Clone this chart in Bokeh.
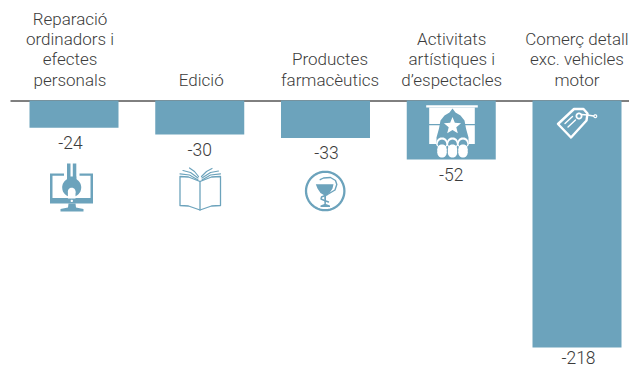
import math
from bokeh.embed import file_html
from bokeh.resources import INLINE
from bokeh.plotting import figure
from bokeh.models import ColumnDataSource, Range1d
from bokeh.core.properties import value

categories = [
    ["Reparació", "ordinadors i", "efectes", "personals"],
    ["Edició"],
    ["Productes", "farmacèutics"],
    ["Activitats", "artístiques i", "d’espectacles"],
    ["Comerç detall", "exc. vehicles", "motor"],
]
values = [-24, -30, -33, -52, -218]

BLUE = "#6ca3bc"
TXT = "#3c3c3c"
FONT = value("Roboto Light")
WHITE = "#ffffff"

W, H = 629, 368
STEP, ZERO_X = 125.75, 73.5
PXU, ZERO_Y = 1.133, 100.0
x0 = -ZERO_X / STEP
y1 = ZERO_Y / PXU

p = figure(width=W, height=H, output_backend="svg", toolbar_location=None,
           x_range=Range1d(x0, x0 + W / STEP), y_range=Range1d(y1 - H / PXU, y1),
           min_border=0, outline_line_color=None)
p.axis.visible = False
p.grid.visible = False
p.background_fill_color = None
p.border_fill_color = None

idx = list(range(len(values)))

# pictogram helpers: outlines given in screen px, converted through the scales
def X(a): return (a - ZERO_X) / STEP
def Y(b): return (ZERO_Y - b) / PXU
def poly(pts, fill=BLUE):
    p.patch([X(a) for a, b in pts], [Y(b) for a, b in pts], fill_color=fill, line_color=None)
def line(pts, color=BLUE, w=1.5):
    p.line([X(a) for a, b in pts], [Y(b) for a, b in pts], line_color=color, line_width=w,
           line_join="round", line_cap="round")
def ring(cx, cy, r):
    n = 48
    return [(cx + r * math.cos(2 * math.pi * k / n), cy + r * math.sin(2 * math.pi * k / n)) for k in range(n + 1)]
def disc(cx, cy, r, fill=BLUE): poly(ring(cx, cy, r), fill)
def circle(cx, cy, r, color=BLUE, w=1.5): line(ring(cx, cy, r), color, w)
def box(a, b, c, d, fill=BLUE): poly([(a, b), (c, b), (c, d), (a, d)], fill)

# baseline
p.line([X(10), X(629)], [Y(100.5), Y(100.5)], line_color="#000000", line_width=1)

# bars
src = ColumnDataSource(dict(x=idx, top=[0] * len(values), bottom=values,
                            lab=[str(v) for v in values],
                            dx=[-3.5, 0, 1, 0, 1.5], dy=[15, 15, 15, 15, 10]))
p.vbar(x="x", top="top", bottom="bottom", width=89 / STEP, source=src,
       fill_color=BLUE, line_color=None)

# value labels
p.text(x="x", y="bottom", text="lab", source=src, x_offset="dx", y_offset="dy",
       text_align="center", text_baseline="middle", text_font=FONT,
       text_font_size="17.5px", text_color=TXT)

# category labels
label_dx = [-4, 1.5, 4.5, 0.5, 0]
for i, lines in enumerate(categories):
    n = len(lines)
    for j, t in enumerate(lines):
        p.text(x=[i], y=[0], text=[t], x_offset=label_dx[i],
               y_offset=-21 - (n - 1 - j) * 20.3,
               text_align="center", text_baseline="middle", text_font=FONT,
               text_font_size="17px", text_color=TXT)

# --- monitor and wrench
box(49.5, 173, 92.5, 203)
box(52, 175.3, 90, 197.5, WHITE)
box(63.5, 171, 79, 176, WHITE)
disc(71.3, 200.4, 1.2, WHITE)
poly([(68, 203), (75, 203), (75.5, 207), (83, 208.5), (83, 211), (60, 211), (60, 208.5), (67.5, 207)])
box(66.5, 163, 70, 180)
box(72.3, 163, 75.8, 180)
box(66.5, 176, 75.8, 180)
disc(71.2, 187, 9.5)
disc(71.2, 191, 3.8, WHITE)
box(67.4, 191, 75, 198, WHITE)

# --- open book
line([(179.5, 176), (188, 176.5), (199.5, 181), (211, 176.5), (220, 176), (220, 205),
      (211, 205.5), (199.5, 209.5), (188, 205.5), (179.5, 205), (179.5, 176)], BLUE, 1.3)
line([(199.5, 181), (199.5, 209.5)], BLUE, 1.3)
line([(189, 167.5), (194, 171), (198, 176)], BLUE, 1.2)
line([(182.5, 170), (190, 172), (197.5, 177.5)], BLUE, 1.2)
line([(179.5, 173.3), (189, 174.5), (197.5, 179.5)], BLUE, 1.2)
line([(211.5, 168), (206, 171), (201, 176)], BLUE, 1.2)
line([(218, 170.5), (210, 172), (201.5, 177.5)], BLUE, 1.2)
line([(220, 173.3), (210, 174.5), (201.5, 179.5)], BLUE, 1.2)

# --- bowl of hygieia
circle(324.7, 190.5, 19.2, BLUE, 2.3)
poly([(315.3, 183.7), (333, 183.7), (332, 188), (329, 192.5), (325.6, 194.8), (325.4, 203.5),
      (329.5, 205), (329.5, 206.5), (320, 206.5), (320, 205), (323.9, 203.5), (323.7, 194.8),
      (320, 192.5), (317, 188)])
line([(319.7, 179.2), (323, 177.5), (330, 177), (335, 180), (336.3, 184), (334.5, 189.5),
      (327, 194), (321, 196.5), (320.5, 198.5), (324, 200), (328, 201.5)], BLUE, 1.4)

# --- stage and seats
box(425.7, 104.7, 477.3, 107, WHITE)
box(428.7, 107, 474.3, 123.5, WHITE)
box(428.7, 124.7, 474.3, 143.5, WHITE)
poly([(452, 108), (455, 112), (460, 115), (464, 120), (465.5, 128), (468, 137), (468, 146),
      (436, 146), (436, 137), (438.5, 128), (440, 120), (444, 115), (449, 112)])
star = []
for k in range(10):
    r = 9 if k % 2 == 0 else 4
    a = -math.pi / 2 + k * math.pi / 5
    star.append((452 + r * math.cos(a), 125.5 + r * math.sin(a)))
poly(star, WHITE)
for cx in (441.5, 452, 462.5):
    disc(cx, 142.5, 5.6, WHITE)
    box(cx - 5.6, 142.5, cx + 5.6, 145, WHITE)
    disc(cx, 143.3, 4.2, BLUE)
    box(cx - 4.2, 143.3, cx + 4.2, 144.5, BLUE)
    disc(cx, 148.5, 4.6, WHITE)
    box(cx - 4.6, 148.5, cx + 4.6, 152.5, WHITE)
    disc(cx, 152.5, 4.6, WHITE)

# --- price tag
line([(557.5, 123.5), (573.5, 108.5), (583, 108.5), (587, 113), (586, 120), (570.5, 137), (557.5, 123.5)],
     WHITE, 2.4)
line([(564.5, 123), (572, 116)], WHITE, 1.4)
line([(567.5, 126.5), (575, 119.5)], WHITE, 1.4)
circle(578.5, 115.5, 2.6, WHITE, 1.8)
line([(581, 114), (587, 114.5), (593, 115.5)], WHITE, 1.6)
circle(594.8, 115.7, 1.4, WHITE, 1.2)

open("out.html", "w").write(file_html(p, INLINE))
